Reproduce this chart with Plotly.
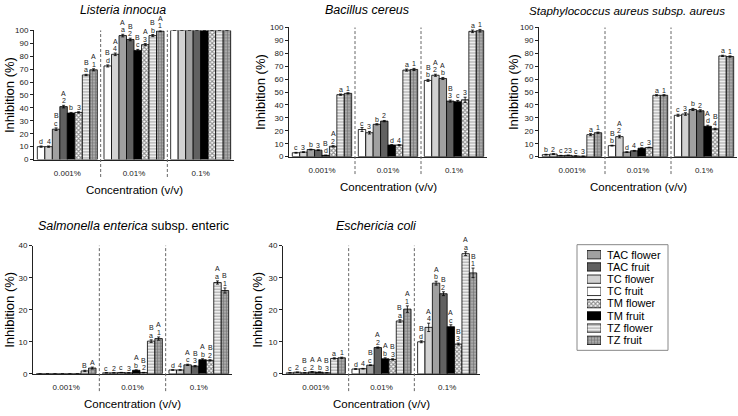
import plotly.graph_objects as go

W, H = 738, 416
FONT = "Liberation Sans, Arial, sans-serif"

categories = ["0.001%", "0.01%", "0.1%"]
series = ["TC fruit", "TC flower", "TAC flower", "TAC fruit", "TM fruit", "TM flower", "TZ flower", "TZ fruit"]
legend_order = ["TAC flower", "TAC fruit", "TC flower", "TC fruit", "TM flower", "TM fruit", "TZ flower", "TZ fruit"]

# values per series (order of `series`), at the three concentrations
listeria_vals = [[10, 72.5, 100], [10, 81.5, 100], [23.5, 96, 100], [41, 93, 100],
                 [36, 84.5, 100], [36.5, 89, 100], [65.5, 96, 100], [69.5, 99.5, 100]]
listeria_err = [[0.5, 0.8, 0], [0.5, 1, 0], [1, 1, 0], [1, 1, 0],
                [0.5, 0.8, 0], [0.5, 0.8, 0], [0.5, 0.8, 0], [0.8, 0.5, 0]]
listeria_low = [["d", "d", ""], ["4", "4", ""], ["c", "a", ""], ["2", "2", ""],
                ["b", "c", ""], ["3", "3", ""], ["a", "b", ""], ["1", "1", ""]]
listeria_up = [["", "B", ""], ["", "A", ""], ["B", "A", ""], ["A", "B", ""],
               ["", "B", ""], ["", "A", ""], ["B", "B", ""], ["A", "A", ""]]

bacillus_vals = [[3, 21, 59], [3.5, 18.5, 63], [5.5, 25, 60.5], [5, 27.5, 43],
                 [1, 9, 42.5], [8, 9, 44], [48, 67, 97], [49, 67.5, 97.5]]
bacillus_err = [[0.3, 1.5, 0.8], [0.3, 1, 0.8], [0.3, 0.5, 0.8], [0.3, 0.5, 0.8],
                [0.2, 0.3, 1], [0.5, 0.3, 2], [0.5, 0.8, 1], [0.5, 0.8, 1]]
bacillus_low = [["c", "c", "b"], ["3", "3", "2"], ["b", "b", "b"], ["3", "2", "3"],
                ["d", "d", "c"], ["2", "4", "3"], ["a", "a", "a"], ["1", "1", "1"]]
bacillus_up = [["", "", "B"], ["", "", "A"], ["", "", "A"], ["", "", "B"],
               ["B", "", ""], ["A", "", ""], ["", "", ""], ["", "", ""]]

staph_vals = [[1.5, 8.5, 32], [2, 15.5, 33], [0.8, 3.5, 36.5], [1, 4.5, 35.5],
              [0.5, 6.5, 23.5], [0.3, 7, 21.5], [17, 47.5, 78], [18.5, 47.5, 77.5]]
staph_err = [[0.3, 0.3, 0.8], [0.3, 1, 1], [0.2, 0.3, 0.8], [0.2, 0.3, 0.8],
             [0.2, 0.3, 0.8], [0.2, 0.3, 0.5], [0.8, 0.5, 0.5], [0.5, 0.5, 0.5]]
staph_low = [["b", "b", "c"], ["2", "2", "3"], ["c", "d", "b"], ["23", "4", "2"],
             ["c", "c", "d"], ["3", "3", "4"], ["a", "a", "a"], ["1", "1", "1"]]
staph_up = [["", "B", ""], ["", "A", ""], ["", "", ""], ["", "", ""],
            ["", "", "A"], ["", "", "B"], ["", "", ""], ["", "", ""]]

salmonella_vals = [[0, 0.3, 1.2], [0, 0.3, 1.2], [0, 0.4, 2.8], [0, 0.3, 2.4],
                   [0, 1.1, 4.4], [0, 0.4, 4.2], [0.9, 10.2, 28.5], [1.8, 11, 26]]
salmonella_err = [[0, 0.05, 0.1], [0, 0.05, 0.1], [0, 0.05, 0.2], [0, 0.05, 0.2],
                  [0, 0.15, 0.3], [0, 0.05, 0.2], [0.2, 0.4, 0.5], [0.3, 0.5, 0.8]]
salmonella_low = [["", "c", "d"], ["", "2", "4"], ["", "c", "c"], ["", "3", "3"],
                  ["", "b", "b"], ["", "2", "2"], ["B", "a", "a"], ["A", "1", "1"]]
salmonella_up = [["", "", ""], ["", "", ""], ["", "", "A"], ["", "", "B"],
                 ["", "A", "A"], ["", "B", "B"], ["", "B", "A"], ["", "A", "B"]]

ecoli_vals = [[0.3, 1.5, 10], [0.5, 1.6, 14.5], [0.3, 2.7, 28.3], [0.6, 8.2, 25],
              [0.5, 4.7, 14.7], [0.3, 4.5, 9.3], [4.8, 16.5, 37.5], [5, 20.2, 31.5]]
ecoli_err = [[0.05, 0.1, 0.3], [0.05, 0.1, 1.3], [0.05, 0.1, 0.6], [0.1, 0.2, 0.6],
             [0.1, 0.3, 0.6], [0.05, 0.2, 0.3], [0.2, 0.4, 0.6], [0.2, 1, 1.5]]
ecoli_low = [["c", "d", "d"], ["2", "4", "4"], ["c", "c", "b"], ["2", "2", "2"],
             ["b", "b", "c"], ["3", "3", "3"], ["a", "a", "a"], ["1", "1", "1"]]
ecoli_up = [["", "", "B"], ["", "", "A"], ["B", "B", "A"], ["A", "A", "B"],
            ["A", "A", "A"], ["B", "B", "B"], ["", "B", "A"], ["", "A", "B"]]

styles = {
    "TC fruit": dict(color="#ffffff"),
    "TC flower": dict(color="#d2d2d2"),
    "TAC flower": dict(color="#a0a0a0"),
    "TAC fruit": dict(color="#616161"),
    "TM fruit": dict(color="#000000"),
    "TM flower": dict(color="#ffffff", pattern=dict(shape="x", fgcolor="#222", bgcolor="#ffffff", size=3, solidity=0.6)),
    "TZ flower": dict(color="#e6e6e6", pattern=dict(shape="-", fgcolor="#555", bgcolor="#eeeeee", size=3, solidity=0.35)),
    "TZ fruit": dict(color="#999999", pattern=dict(shape="+", fgcolor="#333", bgcolor="#aaaaaa", size=3, solidity=0.35)),
}

panels = [
    dict(title="<i>Listeria innocua</i>", vals=listeria_vals, err=listeria_err, low=listeria_low, up=listeria_up,
         ymax=100, px=(34, 234, 27, 159), tx=123, ty=6, ylx=10, tsize=12.3),
    dict(title="<i>Bacillus cereus</i>", vals=bacillus_vals, err=bacillus_err, low=bacillus_low, up=bacillus_up,
         ymax=100, px=(289, 487, 24, 156), tx=367, ty=6, ylx=260, tsize=12.5),
    dict(title="<i>Staphylococcus aureus subsp. aureus</i>", vals=staph_vals, err=staph_err, low=staph_low,
         up=staph_up, ymax=100, px=(539, 737, 24, 156), tx=627, ty=7, ylx=513, tsize=11.6),
    dict(title="<i>Salmonella enterica</i> subsp. enteric", vals=salmonella_vals, err=salmonella_err,
         low=salmonella_low, up=salmonella_up, ymax=40, px=(33, 232, 247, 378), tx=133, ty=227, ylx=10,
         tsize=12.5),
    dict(title="<i>Eschericia coli</i>", vals=ecoli_vals, err=ecoli_err, low=ecoli_low, up=ecoli_up,
         ymax=40, px=(283, 480, 247, 378), tx=377, ty=227, ylx=258, tsize=12.5),
]

BARGAP = 0.1
nser = len(series)
bw = (1 - BARGAP) / nser

fig = go.Figure()
annotations = []
shapes = []
layout = {}

for p_i, p in enumerate(panels):
    k = p_i + 1
    xa = "x" if k == 1 else f"x{k}"
    ya = "y" if k == 1 else f"y{k}"
    x0, x1, yt, yb = p["px"]
    for s_i, name in enumerate(series):
        st = styles[name]
        marker = dict(color=st["color"], line=dict(color="#000", width=0.8))
        if "pattern" in st:
            marker["pattern"] = st["pattern"]
        fig.add_trace(go.Bar(
            x=list(range(len(categories))), y=p["vals"][s_i], name=name, marker=marker,
            error_y=dict(type="data", array=p["err"][s_i], color="#000", thickness=0.8, width=1.5),
            xaxis=xa, yaxis=ya, showlegend=False,
        ))
        for g in range(len(categories)):
            xc = g - (1 - BARGAP) / 2 + bw * (s_i + 0.5)
            top = min(p["vals"][s_i][g] + p["err"][s_i][g], p["ymax"])
            lo = p["low"][s_i][g]
            upl = p["up"][s_i][g]
            if lo:
                annotations.append(dict(x=xc, y=top, xref=xa, yref=ya, text=lo, showarrow=False,
                                        yanchor="middle", yshift=4.5, font=dict(size=7, color="#222", family=FONT)))
            if upl:
                annotations.append(dict(x=xc, y=top, xref=xa, yref=ya, text=upl, showarrow=False,
                                        yanchor="middle", yshift=12, font=dict(size=7, color="#222", family=FONT)))
    layout["xaxis" if k == 1 else f"xaxis{k}"] = dict(
        domain=[x0 / W, x1 / W], range=[-0.5, 2.5], anchor=ya, tickvals=list(range(len(categories))),
        ticktext=categories, ticks="", showline=True, linecolor="#222", linewidth=1, showgrid=False,
        zeroline=False, tickfont=dict(size=8, color="#222", family=FONT), ticklabelstandoff=6, fixedrange=True)
    layout["yaxis" if k == 1 else f"yaxis{k}"] = dict(
        domain=[1 - yb / H, 1 - yt / H], range=[0, p["ymax"]], anchor=xa, dtick=10, ticks="outside",
        ticklen=3, tickwidth=1, tickcolor="#222", showline=True, linecolor="#222", linewidth=1,
        showgrid=False, zeroline=False, tickfont=dict(size=8, color="#222", family=FONT), fixedrange=True)
    for xv in (0.5, 1.5):
        shapes.append(dict(type="line", xref=xa, yref=f"{ya} domain", x0=xv, x1=xv, y0=-0.135, y1=1.0,
                           line=dict(color="#666", width=1, dash="3px,2px")))
    annotations.append(dict(x=p["tx"] / W, y=1 - p["ty"] / H, xref="paper", yref="paper", text=p["title"],
                            showarrow=False, xanchor="center", yanchor="middle",
                            font=dict(size=p["tsize"], color="#000", family=FONT)))
    annotations.append(dict(x=p["ylx"] / W, y=1 - (yt + yb) / 2 / H, xref="paper", yref="paper",
                            text="Inhibition (%)", textangle=-90, showarrow=False, xanchor="center",
                            yanchor="middle", font=dict(size=13, color="#000", family=FONT)))
    annotations.append(dict(x=(x0 + x1) / 2 / W, y=1 - (yb + 31) / H, xref="paper", yref="paper",
                            text="Concentration (v/v)", showarrow=False, xanchor="center", yanchor="middle",
                            font=dict(size=11.5, color="#000", family=FONT)))

# legend drawn as a small subplot of swatches with category labels
for name in legend_order:
    st = styles[name]
    marker = dict(color=st["color"], line=dict(color="#000", width=0.8))
    if "pattern" in st:
        marker["pattern"] = st["pattern"]
    fig.add_trace(go.Bar(x=[1], y=[name], orientation="h", width=0.68, offset=-0.34, marker=marker,
                         xaxis="x6", yaxis="y6", showlegend=False, hoverinfo="name", name=name))
layout["xaxis6"] = dict(domain=[587 / W, 601 / W], range=[0, 1], visible=False, anchor="y6", fixedrange=True)
layout["yaxis6"] = dict(domain=[1 - 350 / H, 1 - 250 / H], type="category", categoryorder="array",
                        categoryarray=legend_order, tickmode="array", tickvals=legend_order,
                        ticktext=legend_order, range=[7.5, -0.5], side="right", anchor="x6",
                        showline=False, ticks="", showgrid=False, zeroline=False, ticklabelstandoff=5,
                        tickfont=dict(size=11, color="#000", family=FONT), fixedrange=True)
shapes.append(dict(type="rect", xref="paper", yref="paper", x0=577 / W, x1=668 / W,
                   y0=1 - 354 / H, y1=1 - 246 / H, line=dict(color="#888", width=1)))

fig.update_layout(
    width=W, height=H, margin=dict(l=0, r=0, t=0, b=0), paper_bgcolor="white", plot_bgcolor="white",
    barmode="group", bargap=BARGAP, bargroupgap=0, showlegend=False,
    annotations=annotations, shapes=shapes, font=dict(family=FONT), **layout)

fig.write_html("out.html", config={"displayModeBar": False},
               post_script="document.body.style.margin='0';document.body.style.overflow='hidden';")
